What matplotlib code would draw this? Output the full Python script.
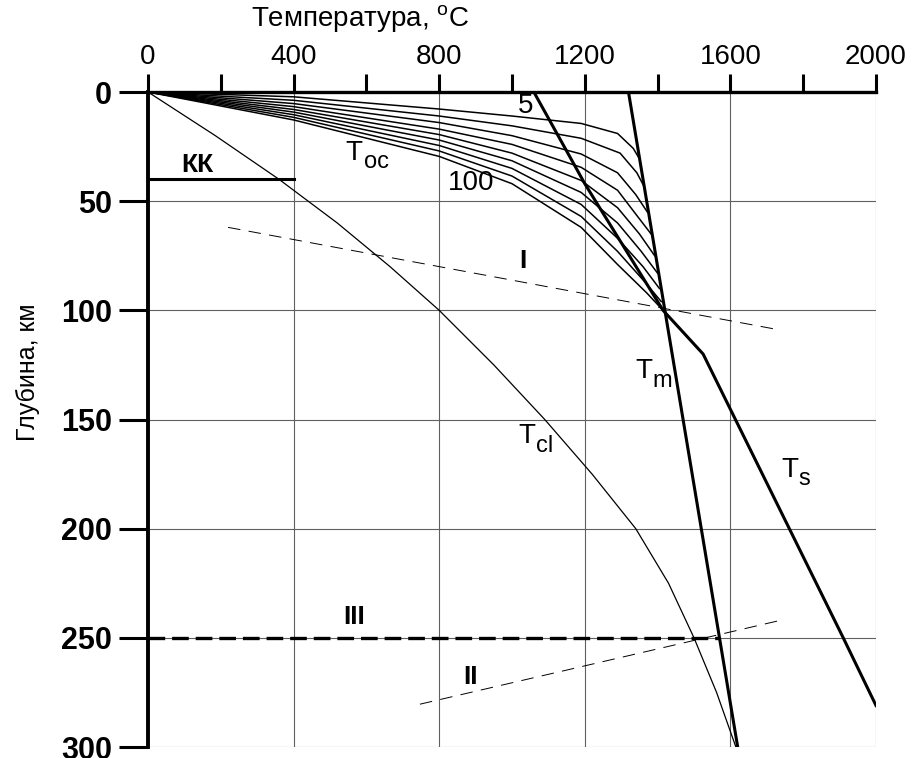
import matplotlib.pyplot as plt

plt.rcParams['font.family'] = ['Liberation Sans', 'DejaVu Sans']
plt.rcParams['mathtext.fontset'] = 'custom'
plt.rcParams['mathtext.rm'] = 'Liberation Sans'
plt.rcParams['lines.scale_dashes'] = False

# temperature (C) / depth (km)
tcl_t = [0, 185, 360, 520, 665, 800, 950, 1090, 1220, 1340, 1430, 1500, 1562, 1615]
tcl_z = [0, 20, 40, 60, 80, 100, 125, 150, 175, 200, 225, 250, 275, 300]

tm_t = [1320, 1620]
tm_z = [0, 300]

ts_t = [1060, 1200, 1415, 1525, 1910, 2000]
ts_z = [0, 42, 100, 120, 250, 281]

# oceanic geotherms, young (5) to old (100)
toc_t = [
    [0, 400, 800, 1000, 1190, 1290, 1333, 1348],
    [0, 400, 800, 1000, 1190, 1297, 1343, 1362],
    [0, 400, 800, 1000, 1190, 1290, 1340, 1372],
    [0, 400, 800, 1000, 1190, 1290, 1345, 1382],
    [0, 400, 800, 1000, 1190, 1290, 1350, 1392],
    [0, 400, 800, 1000, 1190, 1290, 1355, 1400],
    [0, 400, 800, 1000, 1190, 1290, 1360, 1405],
    [0, 400, 800, 1000, 1190, 1290, 1365, 1410],
    [0, 400, 800, 1000, 1190, 1290, 1370, 1415],
]
toc_z = [
    [0, 2.2, 7.8, 11, 14.4, 19, 25.8, 30],
    [0, 3.8, 11, 15.5, 21.2, 28, 37, 43],
    [0, 5.3, 14, 20, 28.4, 37, 47, 55],
    [0, 6.7, 17, 24, 34.5, 45, 57, 65],
    [0, 8, 19.5, 28, 40.5, 53, 65, 75],
    [0, 9.2, 22, 31.5, 46, 60, 73, 83],
    [0, 10.4, 24.5, 35, 51.5, 67, 80, 90],
    [0, 11.6, 27, 38.5, 57, 73, 87, 96],
    [0, 12.8, 29.5, 42, 62, 79, 92, 100],
]

kk_t = [0, 400]
kk_z = [40, 40]
l1_t = [220, 1720]
l1_z = [62, 108.5]
l2_t = [747, 1750]
l2_z = [280.4, 241.5]
l3_t = [0, 1569]
l3_z = [250, 250]

x_major = [0, 400, 800, 1200, 1600, 2000]
x_minor = [200, 600, 1000, 1400, 1800]
y_major = [0, 50, 100, 150, 200, 250, 300]

fig = plt.figure(figsize=(9.14, 7.58), dpi=100)
ax = fig.add_axes([148/914, 1-747/758, (876-148)/914, (747-92)/758])
ax.set_xlim(0, 2000)
ax.set_ylim(300, 0)

ax.xaxis.tick_top()
ax.set_xticks(x_major)
ax.set_xticks(x_minor, minor=True)
ax.set_yticks(y_major)
ax.tick_params(axis='x', which='both', direction='out', length=13, width=2.2,
               pad=3, labelsize=20)
ax.tick_params(axis='y', direction='out', length=21, width=2.2, pad=5,
               labelsize=22)
for lab in ax.get_yticklabels():
    lab.set_fontweight('bold')
ax.grid(True, which='major', color='#606060', lw=0.8)
ax.set_axisbelow(True)
ax.spines['right'].set_visible(False)
ax.spines['bottom'].set_visible(False)
ax.spines['top'].set_linewidth(2.4)
ax.spines['left'].set_linewidth(2.8)

for t, z in zip(toc_t, toc_z):
    ax.plot(t, z, color='k', lw=1.1)
ax.plot(tcl_t, tcl_z, color='k', lw=0.9)
ax.plot(tm_t, tm_z, color='k', lw=2.2)
ax.plot(ts_t, ts_z, color='k', lw=2.2)
ax.plot(kk_t, kk_z, color='k', lw=2.2)
ax.plot(l1_t, l1_z, color='k', lw=0.7, dashes=(9, 6))
ax.plot(l2_t, l2_z, color='k', lw=0.7, dashes=(9, 6))
ax.plot(l3_t, l3_z, color='k', lw=2.4, dashes=(12, 5))


def sub_label(t, z, main, t2, z2, sub):
    ax.text(t, z, main, fontsize=20, ha='right', va='center')
    ax.text(t2, z2, sub, fontsize=17, ha='left', va='center')


sub_label(588, 27.9, 'T', 593, 32.1, 'oc')
sub_label(1063, 157.6, 'T', 1066, 162.1, 'cl')
sub_label(1385, 127.8, 'T', 1385, 132.4, 'm')
sub_label(1786, 173.1, 'T', 1786, 177.3, 's')

ax.text(137, 33.4, 'КК', fontsize=19, fontweight='bold', ha='center', va='center')
ax.text(887, 41.5, '100', fontsize=20, ha='center', va='center')
ax.text(1038, 6.4, '5', fontsize=20, ha='center', va='center')
ax.text(1030, 77.4, 'I', fontsize=19, fontweight='bold', ha='center', va='center')
ax.text(566, 240.5, 'III', fontsize=19, fontweight='bold', ha='center', va='center')
ax.text(885, 268, 'II', fontsize=19, fontweight='bold', ha='center', va='center')

fig.text(360/914, 1-19/758, r'Температура, $^{\mathrm{o}}$C', fontsize=20,
         ha='center', va='center')
fig.text(28/914, 1-372/758, 'Глубина, км', fontsize=18, rotation=90,
         ha='center', va='center')

fig.savefig('out.png', dpi=100)
